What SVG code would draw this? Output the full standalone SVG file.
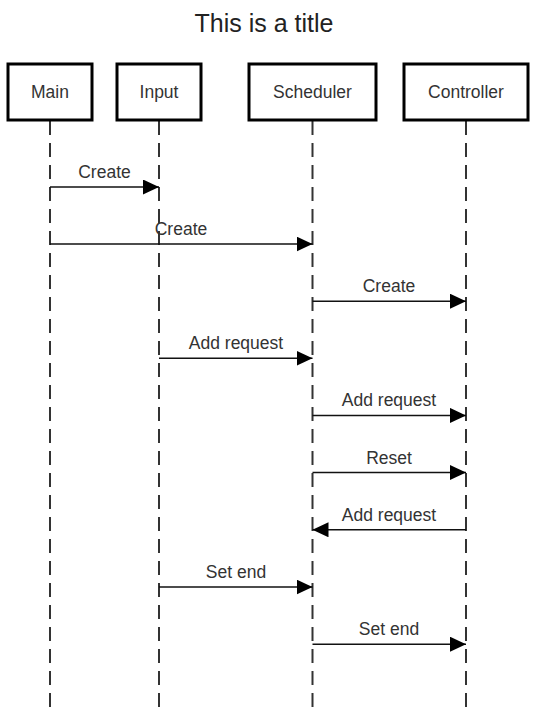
<svg xmlns="http://www.w3.org/2000/svg" width="533" height="712" viewBox="0 0 533 712">
<style>
.box{fill:#fff;stroke:#000;stroke-width:3}
.lbl{font-family:"Liberation Sans",Arial,sans-serif;font-size:17.5px;fill:#333;text-anchor:middle}
.title{font-family:"Liberation Sans",Arial,sans-serif;font-size:25px;fill:#222;text-anchor:middle}
.life{stroke:#333;stroke-width:2;stroke-dasharray:14 8;fill:none}
.msg{stroke:#111;stroke-width:1.5;fill:none;marker-end:url(#ah)}
.mlbl{font-family:"Liberation Sans",Arial,sans-serif;font-size:17.5px;fill:#333;text-anchor:middle}
</style>
<defs>
<marker id="ah" markerUnits="userSpaceOnUse" markerWidth="16" markerHeight="15" refX="16" refY="7.5" orient="auto">
<path d="M0,0 L16,7.5 L0,15 Z" fill="#000"/>
</marker>
</defs>
<rect width="533" height="712" fill="#fff"/>
<text class="title" x="264" y="32">This is a title</text>
<g id="lifelines">
<line class="life" x1="50" y1="121" x2="50" y2="712"/>
<line class="life" x1="159" y1="121" x2="159" y2="712"/>
<line class="life" x1="312.5" y1="121" x2="312.5" y2="712"/>
<line class="life" x1="466" y1="121" x2="466" y2="712"/>
</g>
<g id="main"><rect class="box" x="8" y="64" width="84" height="56"/><text class="lbl" x="50" y="98">Main</text></g>
<g id="input"><rect class="box" x="117" y="64" width="84" height="56"/><text class="lbl" x="159" y="98">Input</text></g>
<g id="scheduler"><rect class="box" x="249" y="64" width="127" height="56"/><text class="lbl" x="312.5" y="98">Scheduler</text></g>
<g id="controller"><rect class="box" x="404" y="64" width="124" height="56"/><text class="lbl" x="466" y="98">Controller</text></g>
<g id="connectors">
<line class="msg" x1="50" y1="187" x2="159" y2="187"/>
<text class="mlbl" x="104.5" y="178">Create</text>
<line class="msg" x1="50" y1="244" x2="312.5" y2="244"/>
<text class="mlbl" x="181" y="235">Create</text>
<line class="msg" x1="312.5" y1="301.2" x2="466" y2="301.2"/>
<text class="mlbl" x="389" y="292.2">Create</text>
<line class="msg" x1="159" y1="358.3" x2="312.5" y2="358.3"/>
<text class="mlbl" x="236" y="349.3">Add request</text>
<line class="msg" x1="312.5" y1="415.4" x2="466" y2="415.4"/>
<text class="mlbl" x="389" y="406.4">Add request</text>
<line class="msg" x1="312.5" y1="472.5" x2="466" y2="472.5"/>
<text class="mlbl" x="389" y="463.5">Reset</text>
<line class="msg" x1="466" y1="529.8" x2="312.5" y2="529.8"/>
<text class="mlbl" x="389" y="520.8">Add request</text>
<line class="msg" x1="159" y1="587" x2="312.5" y2="587"/>
<text class="mlbl" x="236" y="578">Set end</text>
<line class="msg" x1="312.5" y1="644.2" x2="466" y2="644.2"/>
<text class="mlbl" x="389" y="635.2">Set end</text>
</g>
</svg>
